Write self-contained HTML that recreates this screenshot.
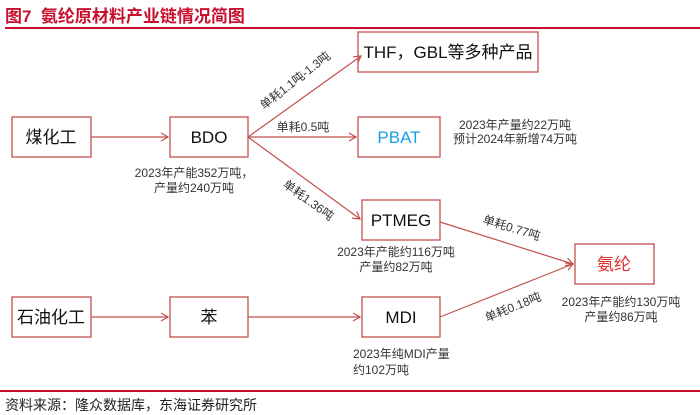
<!DOCTYPE html>
<html><head><meta charset="utf-8"><style>
body{margin:0;width:700px;height:415px;background:#fff;position:relative;overflow:hidden;font-family:"Liberation Sans","Noto Sans CJK SC",sans-serif;color:#333}
.t{position:absolute;white-space:nowrap}
</style></head><body>
<div class="t" style="left:5px;top:2px;font-size:17px;font-weight:bold;color:#c8102e">图7&nbsp; 氨纶原材料产业链情况简图</div>
<div style="position:absolute;left:5px;top:27px;width:695px;height:2px;background:#c8102e"></div>
<div style="position:absolute;left:0;top:390px;width:700px;height:2px;background:#c8102e"></div>
<div class="t" style="left:5px;top:395px;font-size:14px;color:#222">资料来源：隆众数据库，东海证券研究所</div>
<svg width="700" height="415" style="position:absolute;left:0;top:0" font-family="Liberation Sans, Noto Sans CJK SC, sans-serif">
<defs><marker id="a" markerWidth="10" markerHeight="10" refX="8" refY="5" orient="auto" markerUnits="userSpaceOnUse"><path d="M1,1 L8,5 L1,9" fill="none" stroke="#c0504d" stroke-width="1.2"/></marker></defs>
<g fill="#fff" stroke="#c0504d" stroke-width="1.3">
<rect x="12" y="117" width="79" height="40"/>
<rect x="170" y="117" width="78" height="40"/>
<rect x="358" y="32" width="180" height="40"/>
<rect x="358" y="117" width="82" height="40"/>
<rect x="362" y="200" width="78" height="40"/>
<rect x="575" y="244" width="79" height="40"/>
<rect x="12" y="297" width="79" height="40"/>
<rect x="170" y="297" width="78" height="40"/>
<rect x="362" y="297" width="78" height="40"/>
</g>
<g stroke="#c0504d" stroke-width="1.2" marker-end="url(#a)">
<line x1="91" y1="137" x2="168" y2="137"/>
<line x1="248" y1="137" x2="361" y2="56"/>
<line x1="248" y1="137" x2="356" y2="137"/>
<line x1="248" y1="137" x2="360" y2="219"/>
<line x1="440" y1="222" x2="573" y2="264"/>
<line x1="440" y1="317" x2="573" y2="264"/>
<line x1="91" y1="317" x2="168" y2="317"/>
<line x1="248" y1="317" x2="360" y2="317"/>
</g>
<g font-size="17" fill="#111" text-anchor="middle">
<text x="51" y="143">煤化工</text>
<text x="209" y="143">BDO</text>
<text x="448" y="58">THF，GBL等多种产品</text>
<text x="399" y="143" fill="#1ba1e2">PBAT</text>
<text x="401" y="226">PTMEG</text>
<text x="614" y="270" fill="#e03030">氨纶</text>
<text x="51" y="323">石油化工</text>
<text x="209" y="323">苯</text>
<text x="401" y="323">MDI</text>
</g>
<g font-size="12" fill="#333">
<text x="303" y="131" text-anchor="middle">单耗0.5吨</text>
<text x="515" y="129" text-anchor="middle">2023年产量约22万吨</text>
<text x="515" y="143" text-anchor="middle">预计2024年新增74万吨</text>
<text x="194" y="177" text-anchor="middle">2023年产能352万吨，</text>
<text x="194" y="192" text-anchor="middle">产量约240万吨</text>
<text x="396" y="256" text-anchor="middle">2023年产能约116万吨</text>
<text x="396" y="271" text-anchor="middle">产量约82万吨</text>
<text x="621" y="306" text-anchor="middle">2023年产能约130万吨</text>
<text x="621" y="321" text-anchor="middle">产量约86万吨</text>
<text x="353" y="358">2023年纯MDI产量</text>
<text x="353" y="374">约102万吨</text>
<text transform="translate(264,110) rotate(-38)">单耗1.1吨-1.3吨</text>
<text transform="translate(282,186) rotate(36)">单耗1.36吨</text>
<text transform="translate(482,223) rotate(17)">单耗0.77吨</text>
<text transform="translate(487,322) rotate(-22)">单耗0.18吨</text>
</g>
</svg>
</body></html>
